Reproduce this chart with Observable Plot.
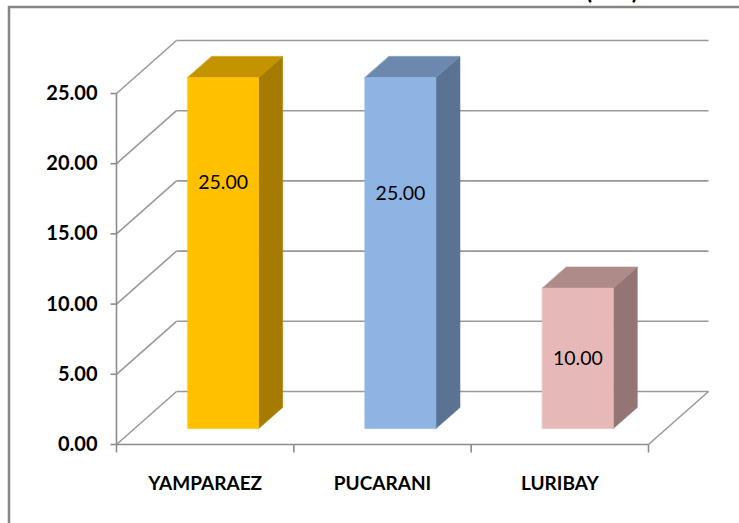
<!DOCTYPE html>
<html>
<head>
<meta charset="utf-8">
<script src="https://cdn.jsdelivr.net/npm/d3@7"></script>
<script src="https://cdn.jsdelivr.net/npm/@observablehq/plot@0.6"></script>
<style>
  html, body { margin: 0; padding: 0; background: #fff; }
  #chart { width: 739px; height: 523px; position: relative; overflow: hidden; }
</style>
</head>
<body>
<div id="chart"></div>
<script>
// ---- data ----
const categories = ["YAMPARAEZ", "PUCARANI", "LURIBAY"];
const values = [25.00, 25.00, 10.00];
const yTicks = [0, 5, 10, 15, 20, 25];
const titleText = "(%)";

// ---- styles (kept apart from the data) ----
const frontColors = ["#FFC000", "#8EB4E3", "#E6B9B8"];
const sideColors  = ["#A67C00", "#5B7393", "#957574"];
const topColors   = ["#C49300", "#6D88AE", "#AE8A89"];
const labelFrac   = [0.70, 0.67, 0.50];   // where Excel placed each value label inside its bar
const gridColor = "#9a9a9a";
const axisColor = "#8c8c8c";

// pixel geometry -> data units of the 3D box
const X0 = 116, X1 = 648, Y0 = 444, Y1 = 93;
const pxX = 3 / (X1 - X0);
const pxY = 25 / (Y0 - Y1);
const DX = 60 * pxX;     // full depth of the box, in x units
const DY = 53 * pxY;     // full depth of the box, in y units
const P = (x, y, z) => ({x: x + z * DX, y: y + z * DY});

const z0 = 0.3, z1 = 0.7, half = 0.2;
const faces = [];
values.forEach((v, i) => {
  const xl = i + 0.5 - half, xr = i + 0.5 + half;
  const add = (id, color, pts) => pts.forEach(p => faces.push({id, color, ...p}));
  add(`side${i}`, sideColors[i], [P(xr, 0, z0), P(xr, 0, z1), P(xr, v, z1), P(xr, v, z0)]);
  add(`top${i}`, topColors[i], [P(xl, v, z0), P(xr, v, z0), P(xr, v, z1), P(xl, v, z1)]);
  add(`front${i}`, frontColors[i], [P(xl, 0, z0), P(xr, 0, z0), P(xr, v, z0), P(xl, v, z0)]);
});

const labels = values.map((v, i) => ({
  ...P(i + 0.5, v * labelFrac[i], z0),
  text: v.toFixed(2)
}));

const font = "Lato, 'Liberation Sans', sans-serif";

const chart = Plot.plot({
  width: 739,
  height: 523,
  margin: 0,
  style: {background: "white", fontFamily: font, overflow: "visible"},
  x: {domain: [0, 3], range: [X0, X1], axis: null},
  y: {domain: [0, 25], range: [Y0, Y1], axis: null},
  color: {type: "identity"},
  marks: [
    // back wall gridlines
    Plot.link(yTicks, {x1: DX, x2: 3 + DX, y1: d => d + DY, y2: d => d + DY, stroke: gridColor, strokeWidth: 1.6}),
    // left side wall diagonals
    Plot.link(yTicks, {x1: 0, y1: d => d, x2: DX, y2: d => d + DY, stroke: gridColor, strokeWidth: 1.6}),
    // floor: front edge and right diagonal
    Plot.link([0], {x1: 0, x2: 3, y1: 0, y2: 0, stroke: axisColor, strokeWidth: 1.6}),
    Plot.link([0], {x1: 3, x2: 3 + DX, y1: 0, y2: DY, stroke: gridColor, strokeWidth: 1.6}),
    // y axis line + ticks
    Plot.link([0], {x1: 0, x2: 0, y1: 0, y2: 25, stroke: axisColor, strokeWidth: 1.6}),
    Plot.link(yTicks, {x1: -6 * pxX, x2: 0, y1: d => d, y2: d => d, stroke: axisColor, strokeWidth: 1.6}),
    // x axis category ticks
    Plot.link([0, 1, 2, 3], {x1: d => d, x2: d => d, y1: 0, y2: -8 * pxY, stroke: axisColor, strokeWidth: 1.6}),
    // bars
    Plot.line(faces, {x: "x", y: "y", z: "id", fill: "color", stroke: "color", strokeWidth: 0.6, curve: "linear-closed"}),
    // value labels
    Plot.text(labels, {x: "x", y: "y", text: "text", fill: "black", fontSize: 19.5, fontFamily: font}),
    // y tick labels
    Plot.text(yTicks, {x: 0, y: d => d, text: d => d.toFixed(2), textAnchor: "end", dx: -19, fill: "black", fontSize: 20, fontWeight: "bold", fontFamily: font}),
    // category labels
    Plot.text(categories, {x: (d, i) => i + 0.5, y: 0, text: d => d, dy: 39, fill: "black", fontSize: 19, fontWeight: "bold", fontFamily: font})
  ]
});

// chart-area border and the clipped title above it
const svg = d3.select(chart);
svg.append("rect")
  .attr("x", 9).attr("y", 7).attr("width", 760).attr("height", 560)
  .attr("fill", "none").attr("stroke", "#858585").attr("stroke-width", 2.5);
svg.append("text")
  .attr("x", 617).attr("y", -1).attr("text-anchor", "middle")
  .attr("font-family", font).attr("font-weight", "bold").attr("font-size", 24)
  .attr("letter-spacing", 10)
  .text(titleText);

document.getElementById("chart").appendChild(chart);
</script>
</body>
</html>
